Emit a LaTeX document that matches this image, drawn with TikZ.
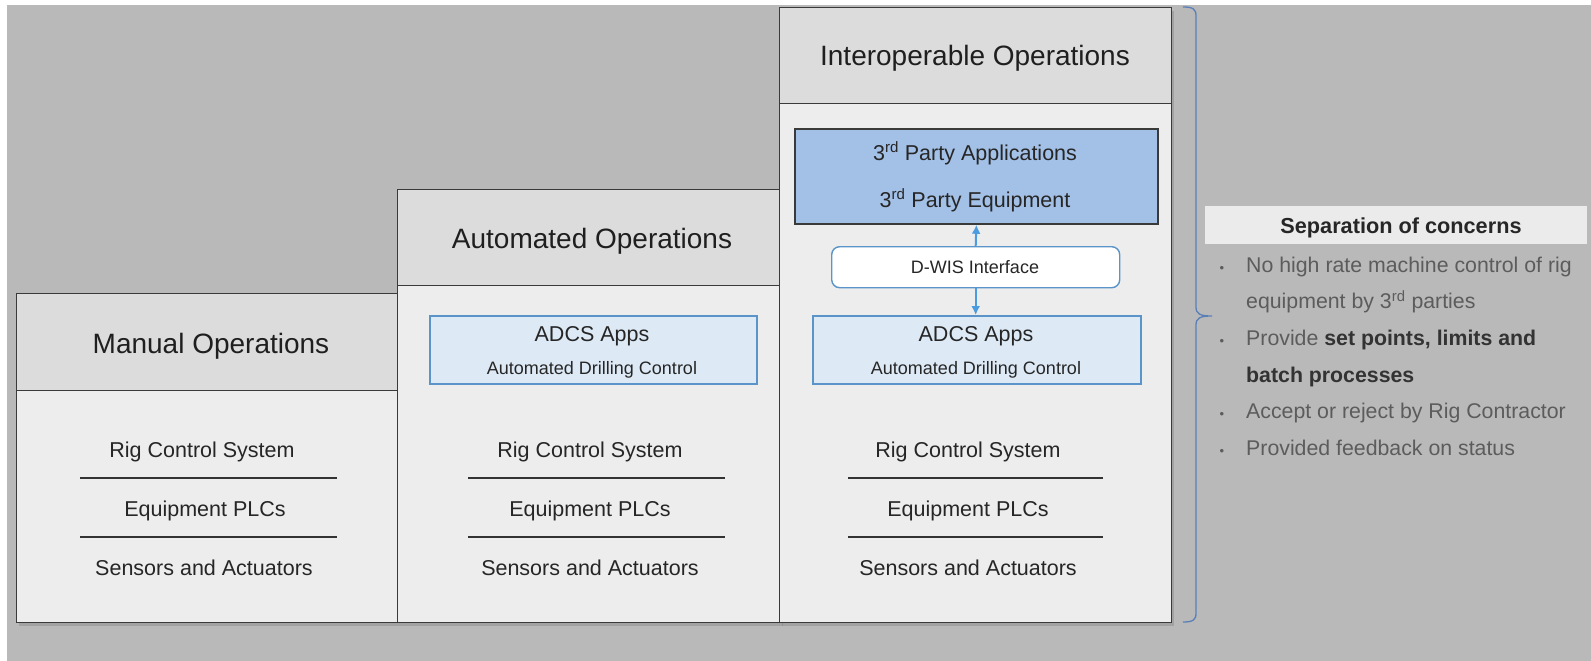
\documentclass[tikz,border=0pt]{standalone}
\usepackage{fontspec}
\setmainfont{Liberation Sans}
\usetikzlibrary{arrows.meta,shadows}
\definecolor{bggray}{HTML}{B8B9B8}
\definecolor{hdrgray}{HTML}{DCDCDC}
\definecolor{bodygray}{HTML}{EDEDED}
\definecolor{edgegray}{HTML}{3A3A3A}
\definecolor{thirdblue}{HTML}{A3C0E6}
\definecolor{adcsfill}{HTML}{DDEAF6}
\definecolor{adcsedge}{HTML}{5B94C8}
\definecolor{arrowblue}{HTML}{4A9BE0}
\definecolor{bracecol}{HTML}{5A7FB8}
\definecolor{bullettext}{HTML}{5C5C5C}
\definecolor{bandgray}{HTML}{EBEBEB}
\tikzset{
  colbody/.style={draw=edgegray, line width=1.4pt, fill=bodygray, inner sep=0pt, anchor=north west,
    drop shadow={shadow xshift=2pt, shadow yshift=-3pt, opacity=0.4}},
  colhead/.style={draw=edgegray, line width=1.4pt, fill=hdrgray, inner sep=0pt, anchor=north west},
  titletext/.style={anchor=base, inner sep=0pt, text=black!88, font=\fontsize{28}{30}\selectfont},
  bodytext/.style={anchor=base, inner sep=0pt, text=black!85, font=\fontsize{21.5}{24}\selectfont},
  subtext/.style={anchor=base, inner sep=0pt, text=black!85, font=\fontsize{18}{20}\selectfont},
  sepline/.style={draw=black!80, line width=2.2pt},
  adcsbox/.style={draw=adcsedge, line width=1.6pt, fill=adcsfill, inner sep=0pt, anchor=north west},
  thirdbox/.style={draw=edgegray, line width=1.8pt, fill=thirdblue, inner sep=0pt, anchor=north west},
  dwisbox/.style={draw=adcsedge, line width=1.4pt, fill=white, rounded corners=8pt, inner sep=0pt, anchor=north west},
  linkarrow/.style={draw=arrowblue, line width=2pt, -{Latex[length=9pt,width=9pt]}},
  bullettxt/.style={anchor=base west, inner sep=0pt, text=bullettext, font=\fontsize{21.3}{24}\selectfont},
  bulletdot/.style={anchor=base, inner sep=0pt, text=bullettext, font=\fontsize{13}{16}\selectfont},
}
\begin{document}
\begin{tikzpicture}[x=1pt,y=-1pt]
\useasboundingbox (0,0) rectangle (1591,661);
\fill[white] (0,0) rectangle (1591,661);
\fill[bggray] (7,5) rectangle (1591,661);

% ---------- Manual column ----------
\node[colbody, minimum width=381pt, minimum height=329pt] (manbody) at (16,293) {};
\node[colhead, minimum width=381pt, minimum height=97pt] (manhead) at (16,293) {};
\node[titletext] (mantitle) at (211,353) {Manual Operations};
\node[bodytext] (manrig) at (202,457) {Rig Control System};
\node[bodytext] (manplc) at (205,516) {Equipment PLCs};
\node[bodytext] (mansen) at (204,575) {Sensors and Actuators};
\coordinate (manl1a) at (80,478); \coordinate (manl1b) at (337,478);
\coordinate (manl2a) at (80,537); \coordinate (manl2b) at (337,537);
\draw[sepline] (manl1a) -- (manl1b);
\draw[sepline] (manl2a) -- (manl2b);

% ---------- Automated column ----------
\node[colbody, minimum width=383pt, minimum height=433pt] (autbody) at (397,189) {};
\node[colhead, minimum width=383pt, minimum height=96pt] (authead) at (397,189) {};
\node[titletext] (auttitle) at (592,248) {Automated Operations};
\node[adcsbox, minimum width=327pt, minimum height=68pt] (autadcs) at (429,315) {};
\node[bodytext] (autadcsa) at (592,341) {ADCS Apps};
\node[subtext] (autadcsb) at (592,374) {Automated Drilling Control};
\node[bodytext] (autrig) at (590,457) {Rig Control System};
\node[bodytext] (autplc) at (590,516) {Equipment PLCs};
\node[bodytext] (autsen) at (590,575) {Sensors and Actuators};
\coordinate (autl1a) at (468,478); \coordinate (autl1b) at (725,478);
\coordinate (autl2a) at (468,537); \coordinate (autl2b) at (725,537);
\draw[sepline] (autl1a) -- (autl1b);
\draw[sepline] (autl2a) -- (autl2b);

% ---------- Interoperable column ----------
\node[colbody, minimum width=392pt, minimum height=615pt] (intbody) at (779,7) {};
\node[colhead, minimum width=392pt, minimum height=96pt] (inthead) at (779,7) {};
\node[titletext] (inttitle) at (975,66) {Interoperable Operations};
\node[thirdbox, minimum width=363pt, minimum height=95pt] (third) at (794,128) {};
\node[bodytext] (thirda) at (975,160) {3\textsuperscript{rd} Party Applications};
\node[bodytext] (thirdb) at (975,207) {3\textsuperscript{rd} Party Equipment};
\node[dwisbox, minimum width=288pt, minimum height=41pt] (dwis) at (831,246) {};
\node[subtext] (dwistext) at (975,273) {D-WIS Interface};
\node[adcsbox, minimum width=328pt, minimum height=68pt] (intadcs) at (812,315) {};
\node[bodytext] (intadcsa) at (976,341) {ADCS Apps};
\node[subtext] (intadcsb) at (976,374) {Automated Drilling Control};
\draw[linkarrow] (dwis.north) -- (third.south);
\draw[linkarrow] (dwis.south) -- (intadcs.north -| dwis.south);
\node[bodytext] (intrig) at (968,457) {Rig Control System};
\node[bodytext] (intplc) at (968,516) {Equipment PLCs};
\node[bodytext] (intsen) at (968,575) {Sensors and Actuators};
\coordinate (intl1a) at (848,478); \coordinate (intl1b) at (1103,478);
\coordinate (intl2a) at (848,537); \coordinate (intl2b) at (1103,537);
\draw[sepline] (intl1a) -- (intl1b);
\draw[sepline] (intl2a) -- (intl2b);

% ---------- Brace ----------
\draw[bracecol, line width=1.3pt]
  (1183,7) .. controls (1193,7) and (1196,9) .. (1196,16)
  -- (1196,307) .. controls (1196,314) and (1200,316) .. (1212,316)
  .. controls (1200,316) and (1196,318) .. (1196,325)
  -- (1196,613) .. controls (1196,620) and (1193,622) .. (1183,622);

% ---------- Separation of concerns ----------
\node[fill=bandgray, inner sep=0pt, minimum width=382pt, minimum height=38pt, anchor=north west] (band) at (1205,206) {};
\node[anchor=base, inner sep=0pt, text=black!85, font=\fontsize{21.7}{24}\bfseries\selectfont] (septitle) at (1401,233) {Separation of concerns};
\node[bulletdot] (b1) at (1222,272) {•};
\node[bullettxt] (t1) at (1246,272) {No high rate machine control of rig};
\node[bullettxt] (t1b) at (1246,308.7) {equipment by 3\textsuperscript{rd} parties};
\node[bulletdot] (b2) at (1222,345.4) {•};
\node[bullettxt] (t2) at (1246,345.4) {Provide \textcolor{black!80}{\bfseries set points, limits and}};
\node[bullettxt] (t2b) at (1246,382) {\textcolor{black!80}{\bfseries batch processes}};
\node[bulletdot] (b3) at (1222,418.8) {•};
\node[bullettxt] (t3) at (1246,418.8) {Accept or reject by Rig Contractor};
\node[bulletdot] (b4) at (1222,455.5) {•};
\node[bullettxt] (t4) at (1246,455.5) {Provided feedback on status};
\end{tikzpicture}
\end{document}
